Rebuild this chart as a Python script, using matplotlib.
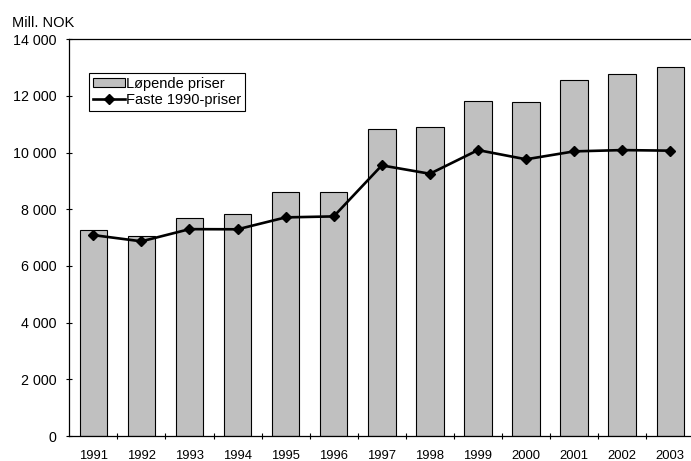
import numpy as np
import matplotlib
matplotlib.use("Agg")
import matplotlib.pyplot as plt
from matplotlib.ticker import FixedLocator

plt.rcParams['font.family'] = ['Liberation Sans', 'DejaVu Sans']

years = ['1991', '1992', '1993', '1994', '1995', '1996', '1997',
         '1998', '1999', '2000', '2001', '2002', '2003']
lopende = [7260, 7050, 7680, 7820, 8620, 8620, 10840,
           10890, 11820, 11790, 12550, 12760, 13010]
faste = [7090, 6870, 7300, 7295, 7715, 7750, 9550,
         9255, 10090, 9765, 10045, 10090, 10070]
y_ticks = [0, 2000, 4000, 6000, 8000, 10000, 12000, 14000]
y_labels = ['0', '2 000', '4 000', '6 000', '8 000', '10 000', '12 000', '14 000']

fig = plt.figure(figsize=(6.91, 4.61), dpi=100)
ax = fig.add_axes([69.3/691, 25/461, 625/691, 396.7/461])

x = np.arange(len(years))
bars = ax.bar(x, lopende, width=0.57, color='#c0c0c0', edgecolor='black',
              linewidth=0.8, label='Løpende priser', zorder=2)
line, = ax.plot(x, faste, color='black', linewidth=1.9, marker='D', markersize=5.5,
                label='Faste 1990-priser', zorder=3)

ax.set_xlim(-0.5, len(years) - 0.5)
ax.set_ylim(0, 14000)

ax.set_yticks(y_ticks)
ax.set_yticklabels(y_labels, fontsize=10.3)
ax.tick_params(axis='y', direction='inout', length=5, width=0.8, pad=6.8)

# labels under the bars, tick marks between them
ax.set_xticks(x)
ax.set_xticklabels(years, fontsize=9.4)
ax.tick_params(axis='x', which='major', length=0, pad=10)
ax.xaxis.set_minor_locator(FixedLocator(np.arange(0.5, len(years) - 0.5, 1)))
ax.tick_params(axis='x', which='minor', direction='inout', length=5, width=0.8)

ax.spines['right'].set_visible(False)
for s in ['left', 'bottom', 'top']:
    ax.spines[s].set_linewidth(0.9)

leg = ax.legend([bars, line], ['Løpende priser', 'Faste 1990-priser'],
                loc='upper left', bbox_to_anchor=(20/625, 1 - 34/396.7),
                fontsize=10.5, frameon=True, fancybox=False, framealpha=1,
                edgecolor='black', borderpad=0.25, labelspacing=0.15,
                handlelength=2.2, handleheight=0.6, handletextpad=0.1,
                borderaxespad=0)
leg.get_frame().set_linewidth(0.8)

fig.text(12/691, 1 - 27/461, 'Mill. NOK', fontsize=10.5, va='baseline')

fig.savefig('out.png', dpi=100)
